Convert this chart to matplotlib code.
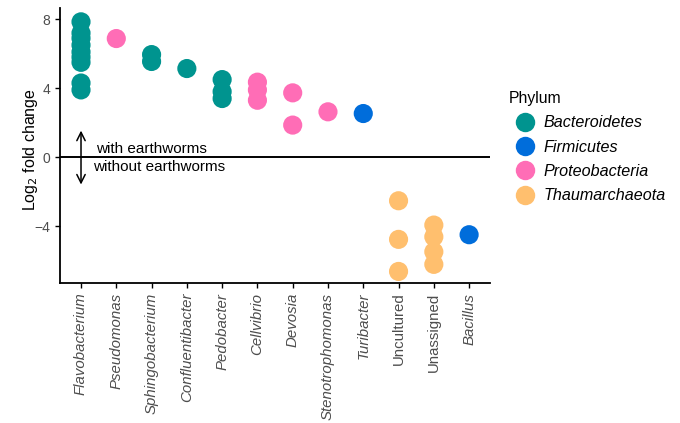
import matplotlib
matplotlib.use("Agg")
import matplotlib.pyplot as plt
from matplotlib.lines import Line2D

plt.rcParams['font.family'] = ['Liberation Sans', 'DejaVu Sans']

genera = ["Flavobacterium", "Pseudomonas", "Sphingobacterium", "Confluentibacter",
          "Pedobacter", "Cellvibrio", "Devosia", "Stenotrophomonas", "Turibacter",
          "Uncultured", "Unassigned", "Bacillus"]
italic_labels = [True, True, True, True, True, True, True, True, True, False, False, True]

phyla = ["Bacteroidetes", "Firmicutes", "Proteobacteria", "Thaumarchaeota"]
phylum_colors = ["#00948f", "#006ddb", "#ff6db6", "#ffbf6e"]

# log2 fold change per genus (one entry per ASV)
flavobacterium = [7.85, 7.2, 6.9, 6.5, 6.1, 5.8, 5.5, 4.3, 3.9]
pseudomonas = [6.88]
sphingobacterium = [5.95, 5.55]
confluentibacter = [5.14]
pedobacter = [4.5, 3.8, 3.4]
cellvibrio = [4.35, 3.9, 3.3]
devosia = [3.73, 1.86]
stenotrophomonas = [2.63]
turibacter = [2.53]
uncultured = [-2.53, -4.77, -6.63]
unassigned = [-3.94, -4.62, -5.49, -6.22]
bacillus = [-4.5]

values = [flavobacterium, pseudomonas, sphingobacterium, confluentibacter, pedobacter,
          cellvibrio, devosia, stenotrophomonas, turibacter, uncultured, unassigned, bacillus]
genus_phylum = ["Bacteroidetes", "Proteobacteria", "Bacteroidetes", "Bacteroidetes",
                "Bacteroidetes", "Proteobacteria", "Proteobacteria", "Proteobacteria",
                "Firmicutes", "Thaumarchaeota", "Thaumarchaeota", "Firmicutes"]

fig = plt.figure(figsize=(6.8, 4.23), dpi=100)
ax = fig.add_axes([0.088, 0.331, 0.633, 0.65])

color_of = dict(zip(phyla, phylum_colors))
for i, (vals, ph) in enumerate(zip(values, genus_phylum)):
    ax.scatter([i] * len(vals), vals, s=190, color=color_of[ph], edgecolors='none', zorder=3)

ax.set_xlim(-0.6, len(genera) - 0.4)
ax.set_ylim(-7.3, 8.65)
ax.axhline(0, color='black', lw=1.4, zorder=2)

ax.set_xticks(range(len(genera)))
ax.set_xticklabels(genera, rotation=90)
for lbl, it in zip(ax.get_xticklabels(), italic_labels):
    lbl.set_fontstyle('italic' if it else 'normal')
    lbl.set_color('#4d4d4d')
    lbl.set_fontsize(10.8)
ax.set_yticks([-4, 0, 4, 8])
ax.set_yticklabels(["\u22124", "0", "4", "8"], color='#4d4d4d', fontsize=10)
ax.tick_params(axis='both', length=3.5, width=1, color='black')
ax.set_ylabel("Log$_2$ fold change", fontsize=11.5)
ax.yaxis.set_label_coords(-0.046, 0.485)

for side in ['top', 'right']:
    ax.spines[side].set_visible(False)
for side in ['left', 'bottom']:
    ax.spines[side].set_linewidth(1.3)

# direction annotation
ax.annotate("", xy=(0, 1.7), xytext=(0, -1.75),
            arrowprops=dict(arrowstyle='<->', color='black', lw=1.1,
                            mutation_scale=15))
ax.text(0.43, 0.45, "with earthworms", fontsize=11, va='center', ha='left')
ax.text(0.33, -0.55, "without earthworms", fontsize=11, va='center', ha='left')

handles = [Line2D([0], [0], marker='o', linestyle='none', markersize=14,
                  markerfacecolor=c, markeredgecolor='none') for c in phylum_colors]
leg = fig.legend(handles, phyla, loc='upper left', bbox_to_anchor=(0.739, 0.800),
                 frameon=False, title="Phylum", fontsize=11.6, title_fontsize=11.3,
                 handletextpad=0.15, labelspacing=0.58, borderaxespad=0)
leg._legend_box.align = 'left'
for t in leg.get_texts():
    t.set_fontstyle('italic')

fig.savefig("out.png", dpi=100)
